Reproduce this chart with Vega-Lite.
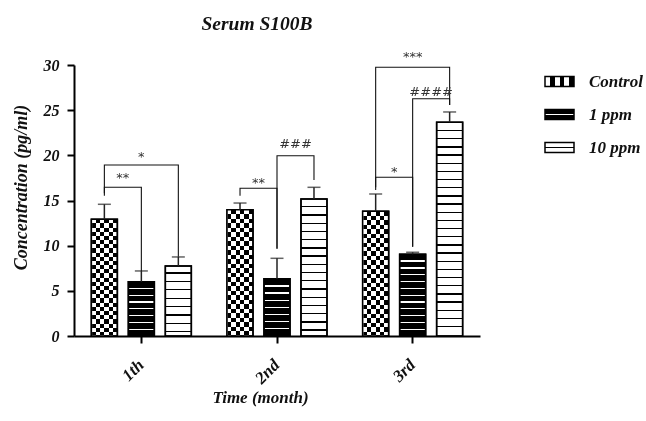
{
"$schema": "https://vega.github.io/schema/vega-lite/v6.json",
"width": 406,
"height": 271,
"autosize": {"type": "none"},
"padding": {"left": 74, "top": 65, "right": 166, "bottom": 85},
"background": "white",
"config": {"view": {"stroke": null}},
"title": {"text": "Serum S100B", "font": "Liberation Serif", "fontSize": 19.5, "fontStyle": "italic", "fontWeight": "bold", "color": "#111", "anchor": "middle", "frame": "group", "dx": -20, "offset": 16},
"datasets": {
"bars": [
{"group": "1th", "treatment": "Control", "value": 12.92, "upper": 14.58},
{"group": "1th", "treatment": "1 ppm", "value": 6.01, "upper": 7.2},
{"group": "1th", "treatment": "10 ppm", "value": 7.75, "upper": 8.75},
{"group": "2nd", "treatment": "Control", "value": 13.98, "upper": 14.72},
{"group": "2nd", "treatment": "1 ppm", "value": 6.34, "upper": 8.6},
{"group": "2nd", "treatment": "10 ppm", "value": 15.17, "upper": 16.46},
{"group": "3rd", "treatment": "Control", "value": 13.8, "upper": 15.72},
{"group": "3rd", "treatment": "1 ppm", "value": 9.04, "upper": 9.27},
{"group": "3rd", "treatment": "10 ppm", "value": 23.66, "upper": 24.8}
],
"brackets": [
{"id": "b1", "group": "1th", "treatment": "Control", "y": 15.8, "ord": 1},
{"id": "b1", "group": "1th", "treatment": "Control", "y": 18.93, "ord": 2},
{"id": "b1", "group": "1th", "treatment": "10 ppm", "y": 18.93, "ord": 3},
{"id": "b1", "group": "1th", "treatment": "10 ppm", "y": 8.78, "ord": 4},
{"id": "b2", "group": "1th", "treatment": "Control", "y": 15.53, "ord": 1},
{"id": "b2", "group": "1th", "treatment": "Control", "y": 16.46, "ord": 2},
{"id": "b2", "group": "1th", "treatment": "1 ppm", "y": 16.46, "ord": 3},
{"id": "b2", "group": "1th", "treatment": "1 ppm", "y": 7.2, "ord": 4},
{"id": "b3", "group": "2nd", "treatment": "Control", "y": 15.53, "ord": 1},
{"id": "b3", "group": "2nd", "treatment": "Control", "y": 16.35, "ord": 2},
{"id": "b3", "group": "2nd", "treatment": "1 ppm", "y": 16.35, "ord": 3},
{"id": "b3", "group": "2nd", "treatment": "1 ppm", "y": 9.63, "ord": 4},
{"id": "b4", "group": "2nd", "treatment": "1 ppm", "y": 9.71, "ord": 1},
{"id": "b4", "group": "2nd", "treatment": "1 ppm", "y": 19.96, "ord": 2},
{"id": "b4", "group": "2nd", "treatment": "10 ppm", "y": 19.96, "ord": 3},
{"id": "b4", "group": "2nd", "treatment": "10 ppm", "y": 17.27, "ord": 4},
{"id": "b5", "group": "3rd", "treatment": "Control", "y": 16.16, "ord": 1},
{"id": "b5", "group": "3rd", "treatment": "Control", "y": 29.75, "ord": 2},
{"id": "b5", "group": "3rd", "treatment": "10 ppm", "y": 29.75, "ord": 3},
{"id": "b5", "group": "3rd", "treatment": "10 ppm", "y": 25.57, "ord": 4},
{"id": "b6", "group": "3rd", "treatment": "Control", "y": 16.46, "ord": 1},
{"id": "b6", "group": "3rd", "treatment": "Control", "y": 17.57, "ord": 2},
{"id": "b6", "group": "3rd", "treatment": "1 ppm", "y": 17.57, "ord": 3},
{"id": "b6", "group": "3rd", "treatment": "1 ppm", "y": 9.89, "ord": 4},
{"id": "b7", "group": "3rd", "treatment": "1 ppm", "y": 9.89, "ord": 1},
{"id": "b7", "group": "3rd", "treatment": "1 ppm", "y": 26.27, "ord": 2},
{"id": "b7", "group": "3rd", "treatment": "10 ppm", "y": 26.27, "ord": 3},
{"id": "b7", "group": "3rd", "treatment": "10 ppm", "y": 25.57, "ord": 4}
],
"marks": [
{"group": "1th", "treatment": "1 ppm", "y": 19.85, "text": "*", "span": "wide"},
{"group": "1th", "treatment": "Control", "y": 17.46, "text": "**", "span": "pair"},
{"group": "2nd", "treatment": "Control", "y": 16.97, "text": "**", "span": "pair"},
{"group": "2nd", "treatment": "1 ppm", "y": 21.22, "text": "###", "span": "pair"},
{"group": "3rd", "treatment": "1 ppm", "y": 30.92, "text": "***", "span": "wide"},
{"group": "3rd", "treatment": "Control", "y": 18.19, "text": "*", "span": "pair"},
{"group": "3rd", "treatment": "1 ppm", "y": 26.98, "text": "####", "span": "pair"}
]
},
"encoding": {
"x": {"field": "group", "type": "nominal", "sort": ["1th", "2nd", "3rd"],
 "scale": {"type": "band", "domain": ["1th", "2nd", "3rd"], "paddingInner": 0.263, "paddingOuter": 0.128},
 "axis": {"title": "Time (month)", "labelAngle": -45, "labelAlign": "right", "labelBaseline": "middle", "labelPadding": 19,
  "labelFont": "Liberation Serif", "labelFontSize": 17, "labelFontStyle": "italic", "labelFontWeight": "bold", "labelColor": "#111",
  "domainColor": "#000", "domainWidth": 2, "tickColor": "#000", "tickWidth": 2, "tickSize": 7,
  "titleFont": "Liberation Serif", "titleFontSize": 17, "titleFontStyle": "italic", "titleFontWeight": "bold", "titleColor": "#111",
  "titleX": 186, "titleY": 61, "titleBaseline": "middle", "titleAlign": "center"}},
"xOffset": {"field": "treatment", "type": "nominal", "sort": ["Control", "1 ppm", "10 ppm"],
 "scale": {"type": "band", "domain": ["Control", "1 ppm", "10 ppm"], "paddingInner": 0.297, "paddingOuter": 0}}
},
"layer": [
{"data": {"name": "bars"},
 "mark": {"type": "bar", "strokeWidth": 1.5},
 "encoding": {
  "y": {"field": "value", "type": "quantitative", "scale": {"domain": [0, 30], "nice": false},
   "axis": {"title": "Concentration (pg/ml)", "values": [0, 5, 10, 15, 20, 25, 30], "grid": false,
    "labelFont": "Liberation Serif", "labelFontSize": 16, "labelFontStyle": "italic", "labelFontWeight": "bold", "labelColor": "#111", "labelPadding": 8,
    "domainColor": "#000", "domainWidth": 2, "tickColor": "#000", "tickWidth": 2, "tickSize": 7,
    "titleFont": "Liberation Serif", "titleFontSize": 18, "titleFontStyle": "italic", "titleFontWeight": "bold", "titleColor": "#111",
    "titleX": -53, "titleY": 122, "titleBaseline": "middle", "titleAlign": "center", "titleAngle": 270}},
  "stroke": {"field": "treatment", "type": "nominal",
   "scale": {"domain": ["Control", "1 ppm", "10 ppm"], "range": ["#000000", "#000000", "#000000"]},
   "legend": {"orient": "none", "legendX": 470, "legendY": 1, "title": null, "padding": 0,
    "symbolType": "M-1,-0.35H1V0.35H-1Z", "symbolSize": 841, "symbolStrokeWidth": 1.5,
    "labelFont": "Liberation Serif", "labelFontSize": 17, "labelFontStyle": "italic", "labelFontWeight": "bold", "labelColor": "#111",
    "labelOffset": 14, "rowPadding": 9,
    "encoding": {"symbols": {"fill": {
     "condition": [
      {"test": "datum.value === 'Control'", "value": {"gradient": "linear", "x1": 0, "y1": 0, "x2": 1, "y2": 0, "stops": [
       {"offset": 0, "color": "#fff"}, {"offset": 0.1667, "color": "#fff"}, {"offset": 0.1667, "color": "#000"}, {"offset": 0.3333, "color": "#000"}, {"offset": 0.3333, "color": "#fff"}, {"offset": 0.5, "color": "#fff"}, {"offset": 0.5, "color": "#000"}, {"offset": 0.6667, "color": "#000"}, {"offset": 0.6667, "color": "#fff"}, {"offset": 0.8333, "color": "#fff"}, {"offset": 0.8333, "color": "#000"}, {"offset": 1, "color": "#000"}]}},
      {"test": "datum.value === '1 ppm'", "value": {"gradient": "linear", "x1": 0, "y1": 0, "x2": 0, "y2": 1, "stops": [
       {"offset": 0, "color": "#000"}, {"offset": 0.42, "color": "#000"}, {"offset": 0.42, "color": "#fff"}, {"offset": 0.58, "color": "#fff"}, {"offset": 0.58, "color": "#000"}, {"offset": 1, "color": "#000"}]}}
     ],
     "value": {"gradient": "linear", "x1": 0, "y1": 0, "x2": 0, "y2": 1, "stops": [
       {"offset": 0, "color": "#fff"}, {"offset": 0.42, "color": "#fff"}, {"offset": 0.42, "color": "#000"}, {"offset": 0.58, "color": "#000"}, {"offset": 0.58, "color": "#fff"}, {"offset": 1, "color": "#fff"}]}
    }}}}},
  "fill": {
   "condition": [
    {"test": "datum.treatment === 'Control'", "value": {"gradient": "linear", "x1": 0, "y1": 0, "x2": 0, "y2": 1, "stops": [
     {"offset": 0, "color": "#000"}, {"offset": 0.0357, "color": "#000"}, {"offset": 0.0357, "color": "#fff"}, {"offset": 0.0714, "color": "#fff"}, {"offset": 0.0714, "color": "#000"}, {"offset": 0.1071, "color": "#000"}, {"offset": 0.1071, "color": "#fff"}, {"offset": 0.1429, "color": "#fff"}, {"offset": 0.1429, "color": "#000"}, {"offset": 0.1786, "color": "#000"}, {"offset": 0.1786, "color": "#fff"}, {"offset": 0.2143, "color": "#fff"}, {"offset": 0.2143, "color": "#000"}, {"offset": 0.25, "color": "#000"}, {"offset": 0.25, "color": "#fff"}, {"offset": 0.2857, "color": "#fff"}, {"offset": 0.2857, "color": "#000"}, {"offset": 0.3214, "color": "#000"}, {"offset": 0.3214, "color": "#fff"}, {"offset": 0.3571, "color": "#fff"}, {"offset": 0.3571, "color": "#000"}, {"offset": 0.3929, "color": "#000"}, {"offset": 0.3929, "color": "#fff"}, {"offset": 0.4286, "color": "#fff"}, {"offset": 0.4286, "color": "#000"}, {"offset": 0.4643, "color": "#000"}, {"offset": 0.4643, "color": "#fff"}, {"offset": 0.5, "color": "#fff"}, {"offset": 0.5, "color": "#000"}, {"offset": 0.5357, "color": "#000"}, {"offset": 0.5357, "color": "#fff"}, {"offset": 0.5714, "color": "#fff"}, {"offset": 0.5714, "color": "#000"}, {"offset": 0.6071, "color": "#000"}, {"offset": 0.6071, "color": "#fff"}, {"offset": 0.6429, "color": "#fff"}, {"offset": 0.6429, "color": "#000"}, {"offset": 0.6786, "color": "#000"}, {"offset": 0.6786, "color": "#fff"}, {"offset": 0.7143, "color": "#fff"}, {"offset": 0.7143, "color": "#000"}, {"offset": 0.75, "color": "#000"}, {"offset": 0.75, "color": "#fff"}, {"offset": 0.7857, "color": "#fff"}, {"offset": 0.7857, "color": "#000"}, {"offset": 0.8214, "color": "#000"}, {"offset": 0.8214, "color": "#fff"}, {"offset": 0.8571, "color": "#fff"}, {"offset": 0.8571, "color": "#000"}, {"offset": 0.8929, "color": "#000"}, {"offset": 0.8929, "color": "#fff"}, {"offset": 0.9286, "color": "#fff"}, {"offset": 0.9286, "color": "#000"}, {"offset": 0.9643, "color": "#000"}, {"offset": 0.9643, "color": "#fff"}, {"offset": 1, "color": "#fff"}]}},
    {"test": "datum.treatment === '1 ppm' && datum.group === '3rd'", "value": {"gradient": "linear", "x1": 0, "y1": 0, "x2": 0, "y2": 1, "stops": [
     {"offset": 0, "color": "#000"},
     {"offset": 0.0753, "color": "#000"}, {"offset": 0.0753, "color": "#fff"}, {"offset": 0.0913, "color": "#fff"}, {"offset": 0.0913, "color": "#000"},
     {"offset": 0.1587, "color": "#000"}, {"offset": 0.1587, "color": "#fff"}, {"offset": 0.1747, "color": "#fff"}, {"offset": 0.1747, "color": "#000"},
     {"offset": 0.242, "color": "#000"}, {"offset": 0.242, "color": "#fff"}, {"offset": 0.258, "color": "#fff"}, {"offset": 0.258, "color": "#000"},
     {"offset": 0.3253, "color": "#000"}, {"offset": 0.3253, "color": "#fff"}, {"offset": 0.3413, "color": "#fff"}, {"offset": 0.3413, "color": "#000"},
     {"offset": 0.4087, "color": "#000"}, {"offset": 0.4087, "color": "#fff"}, {"offset": 0.4247, "color": "#fff"}, {"offset": 0.4247, "color": "#000"},
     {"offset": 0.492, "color": "#000"}, {"offset": 0.492, "color": "#fff"}, {"offset": 0.508, "color": "#fff"}, {"offset": 0.508, "color": "#000"},
     {"offset": 0.5753, "color": "#000"}, {"offset": 0.5753, "color": "#fff"}, {"offset": 0.5913, "color": "#fff"}, {"offset": 0.5913, "color": "#000"},
     {"offset": 0.6587, "color": "#000"}, {"offset": 0.6587, "color": "#fff"}, {"offset": 0.6747, "color": "#fff"}, {"offset": 0.6747, "color": "#000"},
     {"offset": 0.742, "color": "#000"}, {"offset": 0.742, "color": "#fff"}, {"offset": 0.758, "color": "#fff"}, {"offset": 0.758, "color": "#000"},
     {"offset": 0.8253, "color": "#000"}, {"offset": 0.8253, "color": "#fff"}, {"offset": 0.8413, "color": "#fff"}, {"offset": 0.8413, "color": "#000"},
     {"offset": 0.9087, "color": "#000"}, {"offset": 0.9087, "color": "#fff"}, {"offset": 0.9247, "color": "#fff"}, {"offset": 0.9247, "color": "#000"},
     {"offset": 1, "color": "#000"}]}},
    {"test": "datum.treatment === '1 ppm'", "value": {"gradient": "linear", "x1": 0, "y1": 0, "x2": 0, "y2": 1, "stops": [
     {"offset": 0, "color": "#000"},
     {"offset": 0.114, "color": "#000"}, {"offset": 0.114, "color": "#fff"}, {"offset": 0.136, "color": "#fff"}, {"offset": 0.136, "color": "#000"},
     {"offset": 0.239, "color": "#000"}, {"offset": 0.239, "color": "#fff"}, {"offset": 0.261, "color": "#fff"}, {"offset": 0.261, "color": "#000"},
     {"offset": 0.364, "color": "#000"}, {"offset": 0.364, "color": "#fff"}, {"offset": 0.386, "color": "#fff"}, {"offset": 0.386, "color": "#000"},
     {"offset": 0.489, "color": "#000"}, {"offset": 0.489, "color": "#fff"}, {"offset": 0.511, "color": "#fff"}, {"offset": 0.511, "color": "#000"},
     {"offset": 0.614, "color": "#000"}, {"offset": 0.614, "color": "#fff"}, {"offset": 0.636, "color": "#fff"}, {"offset": 0.636, "color": "#000"},
     {"offset": 0.739, "color": "#000"}, {"offset": 0.739, "color": "#fff"}, {"offset": 0.761, "color": "#fff"}, {"offset": 0.761, "color": "#000"},
     {"offset": 0.864, "color": "#000"}, {"offset": 0.864, "color": "#fff"}, {"offset": 0.886, "color": "#fff"}, {"offset": 0.886, "color": "#000"},
     {"offset": 1, "color": "#000"}]}},
    {"test": "datum.treatment === '10 ppm' && datum.group === '1th'", "value": {"gradient": "linear", "x1": 0, "y1": 0, "x2": 0, "y2": 1, "stops": [
     {"offset": 0, "color": "#fff"},
     {"offset": 0.0915, "color": "#fff"}, {"offset": 0.0915, "color": "#000"}, {"offset": 0.1085, "color": "#000"}, {"offset": 0.1085, "color": "#fff"},
     {"offset": 0.2115, "color": "#fff"}, {"offset": 0.2115, "color": "#000"}, {"offset": 0.2285, "color": "#000"}, {"offset": 0.2285, "color": "#fff"},
     {"offset": 0.3315, "color": "#fff"}, {"offset": 0.3315, "color": "#000"}, {"offset": 0.3485, "color": "#000"}, {"offset": 0.3485, "color": "#fff"},
     {"offset": 0.4515, "color": "#fff"}, {"offset": 0.4515, "color": "#000"}, {"offset": 0.4685, "color": "#000"}, {"offset": 0.4685, "color": "#fff"},
     {"offset": 0.5715, "color": "#fff"}, {"offset": 0.5715, "color": "#000"}, {"offset": 0.5885, "color": "#000"}, {"offset": 0.5885, "color": "#fff"},
     {"offset": 0.6915, "color": "#fff"}, {"offset": 0.6915, "color": "#000"}, {"offset": 0.7085, "color": "#000"}, {"offset": 0.7085, "color": "#fff"},
     {"offset": 0.8115, "color": "#fff"}, {"offset": 0.8115, "color": "#000"}, {"offset": 0.8285, "color": "#000"}, {"offset": 0.8285, "color": "#fff"},
     {"offset": 0.9315, "color": "#fff"}, {"offset": 0.9315, "color": "#000"}, {"offset": 0.9485, "color": "#000"}, {"offset": 0.9485, "color": "#fff"},
     {"offset": 1, "color": "#fff"}]}},
    {"test": "datum.treatment === '10 ppm' && datum.group === '2nd'", "value": {"gradient": "linear", "x1": 0, "y1": 0, "x2": 0, "y2": 1, "stops": [
     {"offset": 0, "color": "#fff"},
     {"offset": 0.0525, "color": "#fff"}, {"offset": 0.0525, "color": "#000"}, {"offset": 0.0615, "color": "#000"}, {"offset": 0.0615, "color": "#fff"},
     {"offset": 0.1125, "color": "#fff"}, {"offset": 0.1125, "color": "#000"}, {"offset": 0.1215, "color": "#000"}, {"offset": 0.1215, "color": "#fff"},
     {"offset": 0.1725, "color": "#fff"}, {"offset": 0.1725, "color": "#000"}, {"offset": 0.1815, "color": "#000"}, {"offset": 0.1815, "color": "#fff"},
     {"offset": 0.2325, "color": "#fff"}, {"offset": 0.2325, "color": "#000"}, {"offset": 0.2415, "color": "#000"}, {"offset": 0.2415, "color": "#fff"},
     {"offset": 0.2925, "color": "#fff"}, {"offset": 0.2925, "color": "#000"}, {"offset": 0.3015, "color": "#000"}, {"offset": 0.3015, "color": "#fff"},
     {"offset": 0.3525, "color": "#fff"}, {"offset": 0.3525, "color": "#000"}, {"offset": 0.3615, "color": "#000"}, {"offset": 0.3615, "color": "#fff"},
     {"offset": 0.4125, "color": "#fff"}, {"offset": 0.4125, "color": "#000"}, {"offset": 0.4215, "color": "#000"}, {"offset": 0.4215, "color": "#fff"},
     {"offset": 0.4725, "color": "#fff"}, {"offset": 0.4725, "color": "#000"}, {"offset": 0.4815, "color": "#000"}, {"offset": 0.4815, "color": "#fff"},
     {"offset": 0.5325, "color": "#fff"}, {"offset": 0.5325, "color": "#000"}, {"offset": 0.5415, "color": "#000"}, {"offset": 0.5415, "color": "#fff"},
     {"offset": 0.5925, "color": "#fff"}, {"offset": 0.5925, "color": "#000"}, {"offset": 0.6015, "color": "#000"}, {"offset": 0.6015, "color": "#fff"},
     {"offset": 0.6525, "color": "#fff"}, {"offset": 0.6525, "color": "#000"}, {"offset": 0.6615, "color": "#000"}, {"offset": 0.6615, "color": "#fff"},
     {"offset": 0.7125, "color": "#fff"}, {"offset": 0.7125, "color": "#000"}, {"offset": 0.7215, "color": "#000"}, {"offset": 0.7215, "color": "#fff"},
     {"offset": 0.7725, "color": "#fff"}, {"offset": 0.7725, "color": "#000"}, {"offset": 0.7815, "color": "#000"}, {"offset": 0.7815, "color": "#fff"},
     {"offset": 0.8325, "color": "#fff"}, {"offset": 0.8325, "color": "#000"}, {"offset": 0.8415, "color": "#000"}, {"offset": 0.8415, "color": "#fff"},
     {"offset": 0.8925, "color": "#fff"}, {"offset": 0.8925, "color": "#000"}, {"offset": 0.9015, "color": "#000"}, {"offset": 0.9015, "color": "#fff"},
     {"offset": 0.9525, "color": "#fff"}, {"offset": 0.9525, "color": "#000"}, {"offset": 0.9615, "color": "#000"}, {"offset": 0.9615, "color": "#fff"},
     {"offset": 1, "color": "#fff"}]}}
   ],
   "value": {"gradient": "linear", "x1": 0, "y1": 0, "x2": 0, "y2": 1, "stops": [
     {"offset": 0, "color": "#fff"},
     {"offset": 0.036, "color": "#fff"}, {"offset": 0.036, "color": "#000"}, {"offset": 0.042, "color": "#000"}, {"offset": 0.042, "color": "#fff"},
     {"offset": 0.0742, "color": "#fff"}, {"offset": 0.0742, "color": "#000"}, {"offset": 0.0802, "color": "#000"}, {"offset": 0.0802, "color": "#fff"},
     {"offset": 0.1124, "color": "#fff"}, {"offset": 0.1124, "color": "#000"}, {"offset": 0.1184, "color": "#000"}, {"offset": 0.1184, "color": "#fff"},
     {"offset": 0.1506, "color": "#fff"}, {"offset": 0.1506, "color": "#000"}, {"offset": 0.1566, "color": "#000"}, {"offset": 0.1566, "color": "#fff"},
     {"offset": 0.1888, "color": "#fff"}, {"offset": 0.1888, "color": "#000"}, {"offset": 0.1948, "color": "#000"}, {"offset": 0.1948, "color": "#fff"},
     {"offset": 0.227, "color": "#fff"}, {"offset": 0.227, "color": "#000"}, {"offset": 0.233, "color": "#000"}, {"offset": 0.233, "color": "#fff"},
     {"offset": 0.2652, "color": "#fff"}, {"offset": 0.2652, "color": "#000"}, {"offset": 0.2712, "color": "#000"}, {"offset": 0.2712, "color": "#fff"},
     {"offset": 0.3034, "color": "#fff"}, {"offset": 0.3034, "color": "#000"}, {"offset": 0.3094, "color": "#000"}, {"offset": 0.3094, "color": "#fff"},
     {"offset": 0.3416, "color": "#fff"}, {"offset": 0.3416, "color": "#000"}, {"offset": 0.3476, "color": "#000"}, {"offset": 0.3476, "color": "#fff"},
     {"offset": 0.3798, "color": "#fff"}, {"offset": 0.3798, "color": "#000"}, {"offset": 0.3858, "color": "#000"}, {"offset": 0.3858, "color": "#fff"},
     {"offset": 0.418, "color": "#fff"}, {"offset": 0.418, "color": "#000"}, {"offset": 0.424, "color": "#000"}, {"offset": 0.424, "color": "#fff"},
     {"offset": 0.4562, "color": "#fff"}, {"offset": 0.4562, "color": "#000"}, {"offset": 0.4622, "color": "#000"}, {"offset": 0.4622, "color": "#fff"},
     {"offset": 0.4944, "color": "#fff"}, {"offset": 0.4944, "color": "#000"}, {"offset": 0.5004, "color": "#000"}, {"offset": 0.5004, "color": "#fff"},
     {"offset": 0.5326, "color": "#fff"}, {"offset": 0.5326, "color": "#000"}, {"offset": 0.5386, "color": "#000"}, {"offset": 0.5386, "color": "#fff"},
     {"offset": 0.5708, "color": "#fff"}, {"offset": 0.5708, "color": "#000"}, {"offset": 0.5768, "color": "#000"}, {"offset": 0.5768, "color": "#fff"},
     {"offset": 0.609, "color": "#fff"}, {"offset": 0.609, "color": "#000"}, {"offset": 0.615, "color": "#000"}, {"offset": 0.615, "color": "#fff"},
     {"offset": 0.6472, "color": "#fff"}, {"offset": 0.6472, "color": "#000"}, {"offset": 0.6532, "color": "#000"}, {"offset": 0.6532, "color": "#fff"},
     {"offset": 0.6854, "color": "#fff"}, {"offset": 0.6854, "color": "#000"}, {"offset": 0.6914, "color": "#000"}, {"offset": 0.6914, "color": "#fff"},
     {"offset": 0.7236, "color": "#fff"}, {"offset": 0.7236, "color": "#000"}, {"offset": 0.7296, "color": "#000"}, {"offset": 0.7296, "color": "#fff"},
     {"offset": 0.7618, "color": "#fff"}, {"offset": 0.7618, "color": "#000"}, {"offset": 0.7678, "color": "#000"}, {"offset": 0.7678, "color": "#fff"},
     {"offset": 0.8, "color": "#fff"}, {"offset": 0.8, "color": "#000"}, {"offset": 0.806, "color": "#000"}, {"offset": 0.806, "color": "#fff"},
     {"offset": 0.8382, "color": "#fff"}, {"offset": 0.8382, "color": "#000"}, {"offset": 0.8442, "color": "#000"}, {"offset": 0.8442, "color": "#fff"},
     {"offset": 0.8764, "color": "#fff"}, {"offset": 0.8764, "color": "#000"}, {"offset": 0.8824, "color": "#000"}, {"offset": 0.8824, "color": "#fff"},
     {"offset": 0.9146, "color": "#fff"}, {"offset": 0.9146, "color": "#000"}, {"offset": 0.9206, "color": "#000"}, {"offset": 0.9206, "color": "#fff"},
     {"offset": 0.9528, "color": "#fff"}, {"offset": 0.9528, "color": "#000"}, {"offset": 0.9588, "color": "#000"}, {"offset": 0.9588, "color": "#fff"},
     {"offset": 1, "color": "#fff"}]}
  }
 }
},
{"data": {"name": "bars"},
 "transform": [{"filter": "datum.treatment === 'Control'"}],
 "mark": {"type": "bar", "strokeWidth": 0, "blend": "difference",
  "fill": {"gradient": "linear", "x1": 0, "y1": 0, "x2": 1, "y2": 0, "stops": [
   {"offset": 0, "color": "#fff"}, {"offset": 0.1667, "color": "#fff"}, {"offset": 0.1667, "color": "#000"}, {"offset": 0.3333, "color": "#000"}, {"offset": 0.3333, "color": "#fff"}, {"offset": 0.5, "color": "#fff"}, {"offset": 0.5, "color": "#000"}, {"offset": 0.6667, "color": "#000"}, {"offset": 0.6667, "color": "#fff"}, {"offset": 0.8333, "color": "#fff"}, {"offset": 0.8333, "color": "#000"}, {"offset": 1, "color": "#000"}]}},
 "encoding": {"y": {"field": "value", "type": "quantitative", "scale": {"domain": [0, 30], "nice": false}}}
},
{"data": {"name": "bars"},
 "mark": {"type": "bar", "fill": "transparent", "stroke": "#000", "strokeWidth": 1.5},
 "encoding": {"y": {"field": "value", "type": "quantitative", "scale": {"domain": [0, 30], "nice": false}}}
},
{"data": {"name": "bars"},
 "mark": {"type": "rule", "stroke": "#222", "strokeWidth": 1.5},
 "encoding": {"y": {"field": "value", "type": "quantitative", "scale": {"domain": [0, 30], "nice": false}}, "y2": {"field": "upper"}}
},
{"data": {"name": "bars"},
 "mark": {"type": "tick", "color": "#222", "size": 13, "thickness": 1.5},
 "encoding": {"y": {"field": "upper", "type": "quantitative", "scale": {"domain": [0, 30], "nice": false}}}
},
{"data": {"name": "brackets"},
 "mark": {"type": "line", "stroke": "#111", "strokeWidth": 1.1},
 "encoding": {"y": {"field": "y", "type": "quantitative", "scale": {"domain": [0, 30], "nice": false}},
  "detail": {"field": "id"}, "order": {"field": "ord"}}
},
{"data": {"name": "marks"},
 "transform": [{"filter": "datum.span === 'pair'"}],
 "mark": {"type": "text", "font": "DejaVu Sans", "fontSize": 13, "color": "#333", "baseline": "middle", "dx": 18.5},
 "encoding": {"y": {"field": "y", "type": "quantitative", "scale": {"domain": [0, 30], "nice": false}}, "text": {"field": "text"}}
},
{"data": {"name": "marks"},
 "transform": [{"filter": "datum.span === 'wide'"}],
 "mark": {"type": "text", "font": "DejaVu Sans", "fontSize": 13, "color": "#333", "baseline": "middle"},
 "encoding": {"y": {"field": "y", "type": "quantitative", "scale": {"domain": [0, 30], "nice": false}}, "text": {"field": "text"}}
}
]
}
